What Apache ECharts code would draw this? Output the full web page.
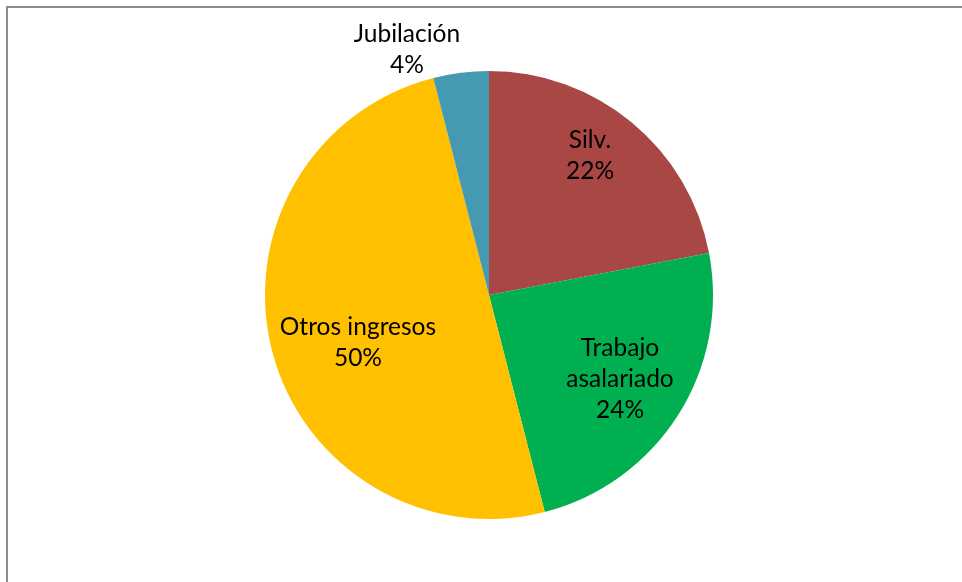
<!DOCTYPE html>
<html>
<head>
<meta charset="utf-8">
<script src="https://cdn.jsdelivr.net/npm/echarts@6/dist/echarts.min.js"></script>
<style>
  html, body { margin: 0; padding: 0; background: #ffffff; }
  #chart { width: 962px; height: 582px; }
</style>
</head>
<body>
<div id="chart"></div>
<script>
// Income sources (share of households)
const categories = ['Silv.', 'Trabajo asalariado', 'Otros ingresos', 'Jubilación'];
const labelNames = ['Silv.', 'Trabajo\nasalariado', 'Otros ingresos', 'Jubilación'];
const shares = [22, 24, 50, 4];
const colors = ['#A94745', '#00B050', '#FFC000', '#4599B1'];

// Pie geometry
const CX = 489, CY = 295, R = 224;
// Label placement: fraction of radius along the slice's mid-angle, plus angular nudge (deg)
const labelPlacement = [
  { f: 0.767, da: -3.6 },
  { f: 0.695, da: 0.3 },
  { f: 0.623, da: -5.7 },
  { f: 1.154, da: -11.3 }
];

const total = shares.reduce((a, b) => a + b, 0);
const midAngles = [];
let acc = 0;
shares.forEach(v => {
  midAngles.push((acc + v / 2) / total * 360);
  acc += v;
});

const chart = echarts.init(document.getElementById('chart'), null, { renderer: 'canvas' });

chart.setOption({
  backgroundColor: '#ffffff',
  animation: false,
  graphic: [
    { type: 'line', shape: { x1: 6, y1: 7, x2: 962, y2: 7 }, style: { stroke: '#8c8c8c', lineWidth: 2 } },
    { type: 'line', shape: { x1: 7, y1: 6, x2: 7, y2: 582 }, style: { stroke: '#8c8c8c', lineWidth: 2 } }
  ],
  series: [{
    type: 'pie',
    center: [CX, CY],
    radius: R,
    startAngle: 90,
    clockwise: true,
    itemStyle: { borderWidth: 0 },
    label: {
      show: true,
      position: 'inside',
      color: '#000000',
      fontFamily: 'Lato',
      fontSize: 24.5,
      lineHeight: 31,
      align: 'center',
      formatter: p => labelNames[p.dataIndex] + '\n' + p.value + '%'
    },
    labelLine: { show: false },
    emphasis: { disabled: true },
    labelLayout: function (params) {
      const i = params.dataIndex;
      const p = labelPlacement[i];
      const a = (midAngles[i] + p.da) * Math.PI / 180;
      return {
        x: CX + Math.sin(a) * R * p.f,
        y: CY - Math.cos(a) * R * p.f,
        align: 'center',
        verticalAlign: 'middle'
      };
    },
    data: categories.map((c, i) => ({
      name: c,
      value: shares[i],
      itemStyle: { color: colors[i] }
    }))
  }]
});
</script>
</body>
</html>
